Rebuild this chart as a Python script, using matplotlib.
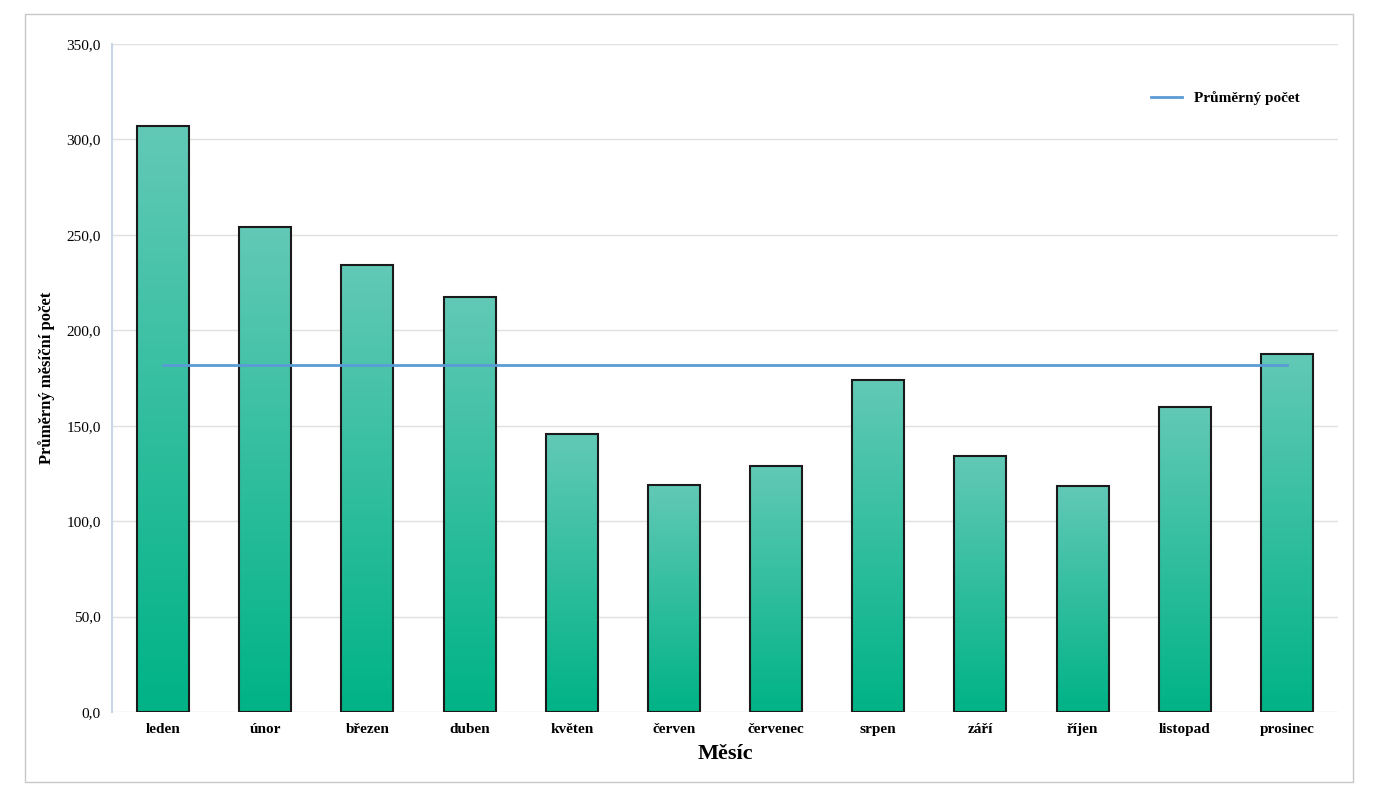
import matplotlib.pyplot as plt
import numpy as np
from matplotlib.patches import Rectangle

months = ["leden", "únor", "březen", "duben", "květen", "červen",
          "červenec", "srpen", "září", "říjen", "listopad", "prosinec"]
counts = [307.0, 254.0, 234.0, 217.5, 145.5, 119.0, 129.0, 174.0, 134.0, 118.5, 160.0, 187.5]
average = 182.0

plt.rcParams["font.family"] = ["Liberation Serif", "DejaVu Serif"]

fig = plt.figure(figsize=(13.77, 8), dpi=100)
fig.patches.append(Rectangle((25 / 1377, 18 / 800), 1328 / 1377, 768 / 800,
                             transform=fig.transFigure, fill=False,
                             edgecolor="#c8c8c8", linewidth=1))
ax = fig.add_axes([0.0813, 0.11, 0.8904, 0.835])

x = np.arange(len(months))
width = 0.51
grad = np.linspace(0, 1, 256).reshape(-1, 1)
cmap = plt.matplotlib.colors.LinearSegmentedColormap.from_list("g", ["#00b386", "#62c9b6"])

for xi, v in zip(x, counts):
    bar = Rectangle((xi - width / 2, 0), width, v, facecolor="none",
                    edgecolor="#1a1a1a", linewidth=1.5, zorder=3)
    ax.add_patch(bar)
    im = ax.imshow(grad, cmap=cmap, origin="lower", aspect="auto",
                   extent=(xi - width / 2, xi + width / 2, 0, v), zorder=2)
    im.set_clip_path(bar)

ax.plot(x, [average] * len(x), color="#5b9bd5", linewidth=2, zorder=4,
        label="Průměrný počet")

ax.set_xlim(-0.5, len(months) - 0.5)
ax.set_ylim(0, 350)
ax.set_yticks(np.arange(0, 351, 50))
ax.set_yticklabels([f"{v:.1f}".replace(".", ",") for v in np.arange(0, 351, 50)],
                   fontsize=11)
ax.set_xticks(x)
ax.set_xticklabels(months, fontsize=11, fontweight="bold")
ax.tick_params(length=0, pad=8)
ax.grid(axis="y", color="#e0e0e0", linewidth=1, zorder=0)
ax.set_axisbelow(True)
for s in ["top", "right", "bottom"]:
    ax.spines[s].set_visible(False)
ax.spines["left"].set_color("#c9d6ea")
ax.spines["left"].set_linewidth(1.5)

ax.set_xlabel("Měsíc", fontsize=16, fontweight="bold", labelpad=6)
ax.set_ylabel("Průměrný měsíční počet", fontsize=12, fontweight="bold", labelpad=8)
ax.legend(loc="upper right", bbox_to_anchor=(0.98, 0.95), frameon=False,
          prop={"size": 11, "weight": "bold"})

fig.savefig("out.png", dpi=100)
